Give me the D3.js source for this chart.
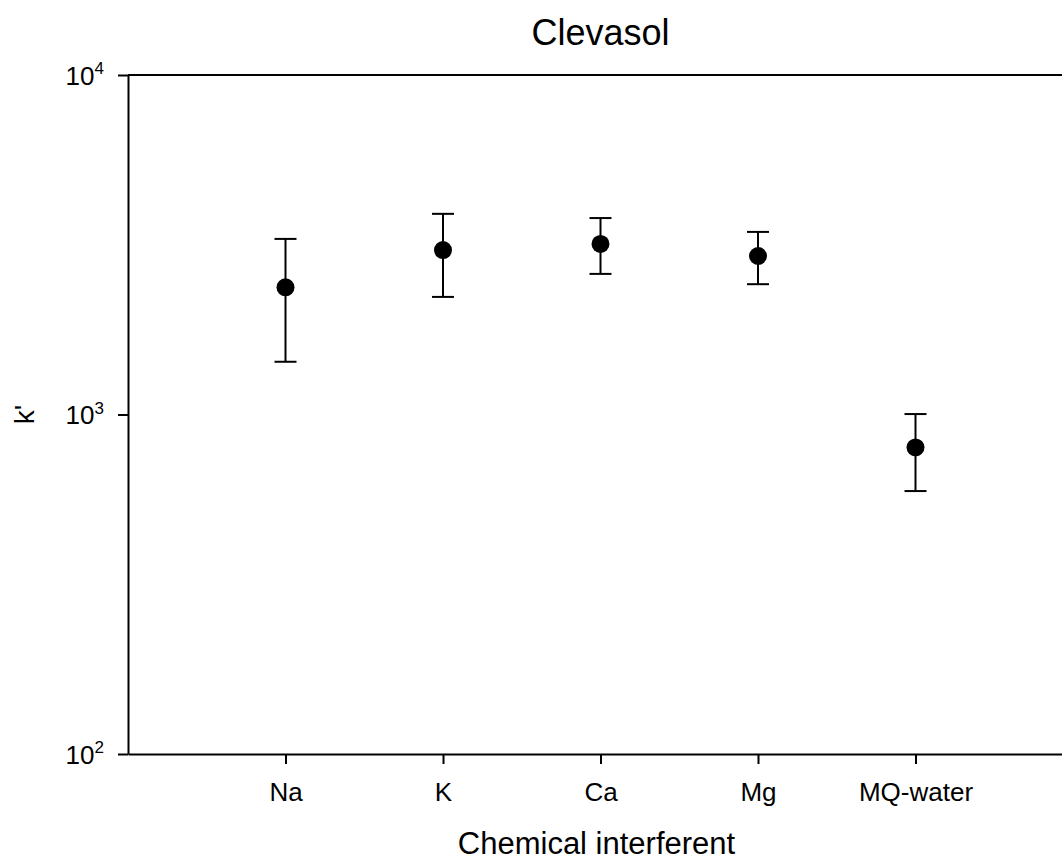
<!DOCTYPE html>
<html>
<head>
<meta charset="utf-8">
<script src="https://cdn.jsdelivr.net/npm/d3@7"></script>
<style>
  html, body { margin: 0; padding: 0; background: #fff; }
  svg { display: block; font-family: "Liberation Sans", Arial, sans-serif; }
</style>
</head>
<body>
<svg id="chart" width="1062" height="861"></svg>
<script>
// Chemical interferents and measured k' (mean with lower / upper error limits)
const categories = ["Na", "K", "Ca", "Mg", "MQ-water"];
const meanK = [2370, 3050, 3180, 2930, 800];
const lowerK = [1430, 2220, 2595, 2420, 595];
const upperK = [3290, 3900, 3790, 3450, 1003];
const yTickValues = [100, 1000, 10000];
const yTickExponents = ["2", "3", "4"];

const svg = d3.select("#chart");
const plot = { left: 128, right: 1073, top: 75, bottom: 754 };

const x = d3.scalePoint()
  .domain(categories)
  .range([plot.left, plot.right])
  .padding(1);

const y = d3.scaleLog()
  .domain([100, 10000])
  .range([plot.bottom, plot.top]);

const points = categories.map((c, i) => ({
  cat: c, mean: meanK[i], lo: lowerK[i], hi: upperK[i]
}));

// Top frame line
svg.append("line")
  .attr("x1", plot.left).attr("x2", plot.right)
  .attr("y1", plot.top).attr("y2", plot.top)
  .attr("stroke", "#000").attr("stroke-width", 2);

// Y axis (log, decade ticks written as powers of ten)
const yAxis = svg.append("g")
  .attr("transform", `translate(${plot.left},0)`)
  .call(d3.axisLeft(y).tickValues(yTickValues).tickSize(10).tickSizeOuter(0).tickFormat(() => ""));
yAxis.select(".domain").attr("stroke-width", 2);
yAxis.selectAll(".tick line").attr("stroke-width", 2);
yAxis.selectAll(".tick text").each(function(d, i) {
  const t = d3.select(this)
    .attr("x", -24)
    .attr("dy", "0.36em")
    .attr("font-size", 26)
    .attr("fill", "#000")
    .attr("font-family", "'Liberation Sans', Arial, sans-serif")
    .attr("text-anchor", "end");
  t.append("tspan").text("10");
  t.append("tspan").text(yTickExponents[i]).attr("font-size", 17).attr("dy", "-0.62em");
});

// X axis (categories)
const xAxis = svg.append("g")
  .attr("transform", `translate(0,${plot.bottom})`)
  .call(d3.axisBottom(x).tickSize(10).tickSizeOuter(0));
xAxis.select(".domain").attr("stroke-width", 2);
xAxis.selectAll(".tick line").attr("stroke-width", 2);
xAxis.selectAll(".tick text")
  .attr("y", 47)
  .attr("dy", 0)
  .attr("font-size", 26)
  .attr("fill", "#000")
  .attr("font-family", "'Liberation Sans', Arial, sans-serif");

// Error bars
const capHalf = 11;
const bars = svg.append("g").selectAll("g").data(points).join("g");
bars.append("line")
  .attr("x1", d => x(d.cat)).attr("x2", d => x(d.cat))
  .attr("y1", d => y(d.lo)).attr("y2", d => y(d.hi))
  .attr("stroke", "#000").attr("stroke-width", 2);
bars.append("line")
  .attr("x1", d => x(d.cat) - capHalf).attr("x2", d => x(d.cat) + capHalf)
  .attr("y1", d => y(d.hi)).attr("y2", d => y(d.hi))
  .attr("stroke", "#000").attr("stroke-width", 2);
bars.append("line")
  .attr("x1", d => x(d.cat) - capHalf).attr("x2", d => x(d.cat) + capHalf)
  .attr("y1", d => y(d.lo)).attr("y2", d => y(d.lo))
  .attr("stroke", "#000").attr("stroke-width", 2);

// Mean markers
bars.append("circle")
  .attr("cx", d => x(d.cat))
  .attr("cy", d => y(d.mean))
  .attr("r", 9)
  .attr("fill", "#000");

// Titles
svg.append("text")
  .attr("x", (plot.left + plot.right) / 2)
  .attr("y", 45)
  .attr("text-anchor", "middle")
  .attr("font-size", 36)
  .text("Clevasol");

svg.append("text")
  .attr("x", (plot.left + plot.right) / 2 - 4)
  .attr("y", 854)
  .attr("text-anchor", "middle")
  .attr("font-size", 31)
  .text("Chemical interferent");

svg.append("text")
  .attr("transform", `translate(34,${y(1000)}) rotate(-90)`)
  .attr("text-anchor", "middle")
  .attr("font-size", 28)
  .text("k'");
</script>
</body>
</html>
